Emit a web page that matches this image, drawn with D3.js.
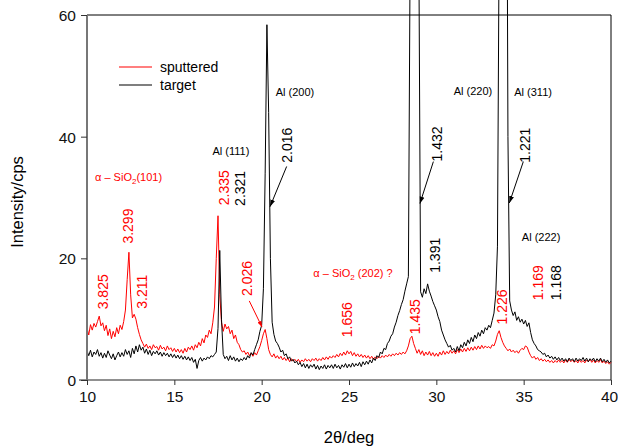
<!DOCTYPE html>
<html><head><meta charset="utf-8">
<script src="https://cdn.jsdelivr.net/npm/d3@7"></script>
<style>body{margin:0;background:#fff}svg{display:block;font-family:"Liberation Sans",Arial,sans-serif}</style>
</head><body>
<svg id="c" width="618" height="448"></svg>
<script>
const xStart = 10, xStep = 0.1;
const sputtered = [
8.6,7.4,9.1,8.2,9.3,8.7,9.6,10.5,8.9,9.4,
8.1,9.0,7.3,8.4,6.8,8.0,7.1,8.6,7.6,9.0,
8.3,9.6,11.5,16.5,21.0,14.0,10.2,10.8,10.0,8.6,
7.5,6.6,6.0,5.4,5.9,5.2,5.6,5.0,5.8,5.3,
5.5,4.9,5.7,5.1,5.4,4.8,5.6,5.0,5.3,4.7,
5.2,4.6,5.1,4.5,5.0,4.4,5.2,4.6,5.4,5.0,
5.6,4.9,5.8,5.3,6.2,5.6,6.8,6.1,7.4,7.0,
8.2,7.6,9.4,12.0,20.0,27.0,14.0,9.5,8.0,9.2,
8.4,8.8,7.6,8.2,6.8,7.4,6.2,5.8,5.0,4.6,
4.8,4.2,4.6,4.0,4.4,3.9,4.5,4.1,4.8,5.5,
6.5,7.6,8.3,6.8,5.0,4.2,3.8,4.3,3.6,4.0,
3.5,3.9,3.3,3.7,3.2,3.6,3.0,3.5,3.1,3.4,
3.0,3.4,2.9,3.3,3.0,3.5,3.1,3.4,3.0,3.5,
3.2,3.6,3.1,3.5,3.2,3.7,3.3,3.8,3.4,3.9,
3.6,4.0,3.7,4.2,3.8,4.4,4.0,4.6,4.1,4.8,
4.3,4.7,4.0,4.5,3.9,4.3,3.8,4.2,3.7,4.1,
3.6,4.0,3.5,3.9,3.4,3.8,3.5,3.9,3.6,4.0,
3.7,4.1,3.8,4.2,3.9,4.3,4.0,4.4,4.1,4.5,
4.2,4.6,4.3,4.8,5.6,6.8,7.2,6.0,5.2,4.4,
5.0,4.2,4.8,4.0,4.6,4.1,4.7,4.0,4.5,3.9,
4.4,3.9,4.6,4.1,4.8,4.2,4.7,4.3,4.9,4.4,
4.8,4.3,5.0,4.5,5.1,4.6,5.2,4.7,5.3,4.8,
5.4,4.9,5.5,5.0,5.6,5.1,5.7,5.2,5.6,5.3,
5.5,5.2,5.8,5.6,6.4,7.5,8.1,7.0,6.2,5.6,
5.2,4.8,5.1,4.6,4.9,4.5,4.8,4.4,4.9,5.2,
5.0,5.6,5.4,4.6,4.0,3.6,3.9,3.4,3.7,3.2,
3.5,3.1,3.4,3.0,3.3,2.9,3.2,2.8,3.2,2.9,
3.3,2.9,3.2,2.8,3.3,2.9,3.4,3.0,3.3,2.9,
3.2,2.8,3.3,2.9,3.2,2.8,3.3,3.0,3.4,2.9,
3.3,2.8,3.2,2.9,3.4,2.8,3.1,2.7,3.0,2.6,
2.9];
const target = [
4.8,4.0,4.9,3.8,4.6,4.2,5.0,3.9,4.5,3.6,
4.4,3.7,4.8,4.1,3.5,4.3,3.3,4.0,4.6,3.8,
4.5,3.9,5.0,4.2,4.8,3.7,5.2,4.3,5.6,4.6,
5.8,4.9,5.4,4.4,5.1,4.2,4.9,4.0,4.7,4.3,
4.8,4.1,4.6,3.9,4.5,4.0,4.4,3.8,4.3,3.7,
4.2,3.6,4.1,3.5,4.0,3.4,3.9,3.3,3.8,3.2,
3.7,2.9,3.4,1.9,3.2,3.7,3.1,3.6,3.3,3.8,
3.5,4.0,3.8,4.2,4.6,8.5,21.3,10.0,4.2,3.5,
3.9,3.2,4.0,3.3,3.8,3.1,3.6,3.0,3.5,3.2,
3.7,3.3,4.0,3.6,4.5,4.1,5.0,5.8,6.6,8.0,
9.0,15.0,34.0,58.4,44.0,20.0,9.5,7.5,6.4,6.0,
5.4,4.6,4.9,4.0,4.3,3.5,3.8,3.1,3.4,2.8,
3.1,2.5,2.9,2.2,2.7,2.0,2.6,1.9,2.5,2.1,
2.6,1.8,2.4,1.7,2.3,1.9,2.5,1.8,2.4,2.0,
2.5,1.9,2.6,2.0,2.4,1.8,2.5,2.1,2.7,2.0,
2.6,2.1,2.8,2.2,2.7,2.3,2.9,2.2,3.0,2.5,
3.1,2.6,3.3,2.8,3.6,3.2,4.0,3.7,4.6,4.3,
5.2,5.0,6.0,6.4,7.2,7.6,8.7,9.5,10.6,11.4,
12.4,13.2,14.6,15.8,17.0,70.0,320,420,420,320,
70.0,14.5,13.6,15.0,14.2,15.8,14.6,13.8,12.9,12.2,
11.5,10.4,9.6,8.2,7.4,6.6,6.0,5.4,5.7,4.9,
5.2,4.6,5.5,4.8,5.8,5.3,6.2,5.6,6.6,6.0,
7.0,6.3,7.4,6.8,7.8,7.2,8.2,7.6,8.6,8.2,
9.0,8.6,9.8,11.0,14.0,22.0,75,300,420,350,
120,40.0,13.0,11.5,10.6,11.2,9.8,10.4,9.5,10.0,
9.2,9.8,8.8,9.4,7.8,6.6,6.0,5.6,5.0,4.8,
4.6,4.2,4.4,3.8,4.1,3.6,3.9,3.4,3.8,3.3,
3.7,3.2,3.6,3.1,3.5,3.0,3.6,3.2,3.5,3.0,
3.6,3.1,3.5,3.2,3.7,3.1,3.6,3.0,3.5,3.2,
3.6,3.0,3.5,3.1,3.6,3.0,3.4,2.9,3.3,2.8,
3.1];
const xTicks = [10,15,20,25,30,35,40];
const yTicks = [0,20,40,60];
const seriesNames = ["sputtered","target"];
const seriesColors = ["#ff0000","#000000"];

const svg = d3.select("#c");
const L = 87, R = 611, T = 15, B = 380;
const x = d3.scaleLinear().domain([10,40]).range([L,R]);
const y = d3.scaleLinear().domain([0,60]).range([B,T]);

svg.append("defs").append("marker").attr("id","ah").attr("viewBox","0 0 10 10")
  .attr("refX",10).attr("refY",5).attr("markerWidth",7).attr("markerHeight",7)
  .attr("orient","auto").attr("markerUnits","userSpaceOnUse")
  .append("path").attr("d","M0,1.5L10,5L0,8.5Z").attr("fill","#000");
svg.select("defs").append("marker").attr("id","ahr").attr("viewBox","0 0 10 10")
  .attr("refX",10).attr("refY",5).attr("markerWidth",6).attr("markerHeight",6)
  .attr("orient","auto").attr("markerUnits","userSpaceOnUse")
  .append("path").attr("d","M0,1.5L10,5L0,8.5Z").attr("fill","#ff0000");

// frame
svg.append("line").attr("x1",L).attr("x2",R).attr("y1",T).attr("y2",T).attr("stroke","#000").attr("stroke-width",1);
svg.append("line").attr("x1",R).attr("x2",R).attr("y1",T).attr("y2",B).attr("stroke","#000").attr("stroke-width",1);

const line = d3.line().x((d,i)=>x(xStart+i*xStep)).y(d=>y(d));
[sputtered,target].forEach((s,k)=>{
  svg.append("path").datum(s).attr("d",line).attr("fill","none")
    .attr("stroke",seriesColors[k]).attr("stroke-width",1).attr("stroke-linejoin","round");
});

// axes
const gx = svg.append("g").attr("transform",`translate(0,${B})`)
  .call(d3.axisBottom(x).tickValues(xTicks).tickSize(5).tickPadding(6).tickFormat(d3.format("d")));
const gy = svg.append("g").attr("transform",`translate(${L},0)`)
  .call(d3.axisLeft(y).tickValues(yTicks).tickSize(6).tickPadding(5).tickFormat(d3.format("d")));
gx.select(".domain").attr("d",`M${L-8},0H${R}`).attr("stroke","#222").attr("stroke-width",1.2);
gy.select(".domain").attr("d",`M0,${T}V${B}`).attr("stroke","#777").attr("stroke-width",2);
[gx,gy].forEach(g=>{
  g.selectAll(".tick line").attr("stroke","#333");
  g.selectAll("text").attr("font-size",15.5).attr("fill","#111").attr("font-family","Liberation Sans, Arial, sans-serif");
});
gx.selectAll(".tick text").filter(d=>d===40).attr("dx",-2);
gy.selectAll(".tick text").attr("dy","0.36em");

svg.append("text").attr("x",x(25)).attr("y",443).attr("text-anchor","middle")
  .attr("font-size",16.5).text("2θ/deg");
svg.append("text").attr("transform",`translate(23,202) rotate(-90)`).attr("text-anchor","middle")
  .attr("font-size",16.5).text("Intensity/cps");

// legend
seriesNames.forEach((n,k)=>{
  const ly = 67 + k*18;
  svg.append("line").attr("x1",119).attr("x2",152).attr("y1",ly).attr("y2",ly)
    .attr("stroke",seriesColors[k]).attr("stroke-width",1.2);
  svg.append("text").attr("x",160).attr("y",ly).attr("dy","0.35em").attr("font-size",14).text(n);
});

// vertical d-spacing labels
const vlabels = [
 ["3.825",10.93,14.5,"#ff0000"],["3.299",12.36,25.3,"#ff0000"],["3.211",13.13,14.5,"#ff0000"],
 ["2.335",17.86,31.6,"#ff0000"],["2.321",18.76,31.5,"#000"],["2.026",19.14,16.7,"#ff0000"],
 ["2.016",21.47,38.6,"#000"],["1.432",30.05,38.8,"#000"],["1.221",35.08,38.6,"#000"],
 ["1.169",35.84,16.0,"#ff0000"],["1.168",36.85,16.0,"#000"],["1.656",24.87,9.9,"#ff0000"],
 ["1.435",28.78,10.4,"#ff0000"],["1.391",29.92,20.5,"#000"],["1.226",33.77,12.0,"#ff0000"]];
vlabels.forEach(([t,dx,dv,c])=>{
  svg.append("text").attr("transform",`translate(${x(dx)},${y(dv)}) rotate(-90)`)
    .attr("text-anchor","middle").attr("dominant-baseline","central")
    .attr("font-size",14).attr("fill",c).text(t);
});

// Al labels
const alLabels = [["Al (111)",18.24,37.6],["Al (200)",21.91,47.4],["Al (220)",32.10,47.5],["Al (311)",35.54,47.4],["Al (222)",36.0,23.5]];
alLabels.forEach(([t,dx,dv])=>{
  svg.append("text").attr("x",x(dx)).attr("y",y(dv)).attr("dy","0.35em").attr("text-anchor","middle")
    .attr("font-size",11).text(t);
});

// SiO2 labels
function sio2(dx,dv,miller){
  const t = svg.append("text").attr("x",x(dx)).attr("y",y(dv)).attr("dy","0.35em")
    .attr("font-size",11).attr("fill","#ff0000");
  t.append("tspan").text("α – SiO");
  t.append("tspan").attr("font-size",8).attr("dy",3).text("2");
  t.append("tspan").attr("dy",-3).text(miller);
}
sio2(10.46,33.3,"(101)");
sio2(22.96,17.5," (202) ?");

// arrows
const arrows = [[21.43,35.1,20.48,28.5,"#000","ah"],[29.83,35.9,29.06,29.0,"#000","ah"],[34.98,35.9,34.18,29.1,"#000","ah"],[19.29,13.0,20.02,8.7,"#ff0000","ahr"]];
arrows.forEach(([a,b,c,d,col,m])=>{
  svg.append("line").attr("x1",x(a)).attr("y1",y(b)).attr("x2",x(c)).attr("y2",y(d))
    .attr("stroke",col).attr("stroke-width",1).attr("marker-end",`url(#${m})`);
});
</script>
</body></html>
